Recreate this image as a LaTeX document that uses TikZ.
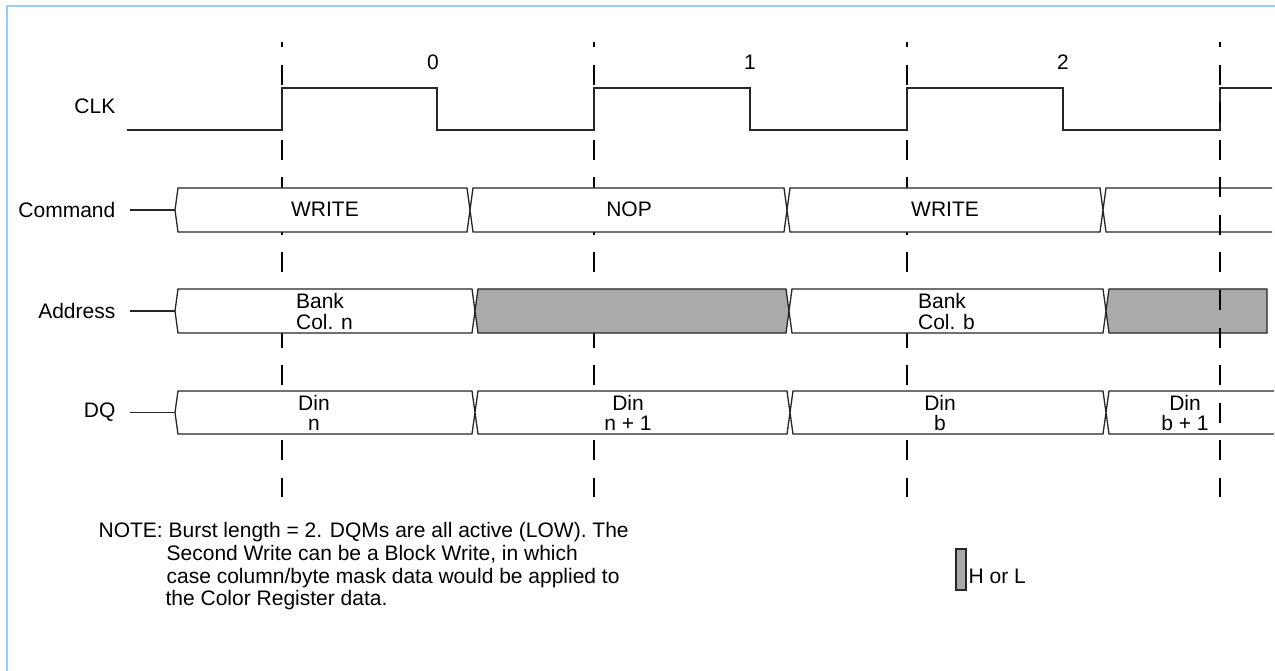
\documentclass[tikz,border=0pt]{standalone}
\usepackage{fontspec}
\setmainfont{Liberation Sans}
\usetikzlibrary{positioning}
\definecolor{hlgrey}{RGB}{170,170,170}
\definecolor{frameblue}{RGB}{153,204,255}
\tikzset{every picture/.style={line width=1.3pt}}
\tikzset{
  sig/.style={draw=black!85},
  ticks/.style={draw=black, dash pattern=on 20pt off 17.5pt, dash phase=14.5pt},
  lbl/.style={inner sep=0pt, font=\fontsize{21}{24}\selectfont},
  addrtxt/.style={lbl, align=left, font=\fontsize{21}{21}\selectfont},
  dqtxt/.style={lbl, align=center, font=\fontsize{21}{20}\selectfont},
}
\begin{document}
\begin{tikzpicture}[x=1pt,y=1pt,yscale=-1,xscale=1]
\path[use as bounding box] (0,0) rectangle (1275,671);

%Frame
\draw[frameblue, line width=2.5pt] (7,671) -- (7,6) -- (1275,6);

%Dashed clock lines
\foreach \cx in {282,594,907}
  \draw[ticks] (\cx,42) -- (\cx,497);

%CLK waveform
\draw[sig] (127,130) -- (282,130) -- (282,88) -- (437,88) -- (437,130) -- (594,130) -- (594,88) -- (750,88) -- (750,130) -- (907,130) -- (907,88) -- (1063,88) -- (1063,130) -- (1220,130) -- (1220,88) -- (1272,88);

%Command bus
\draw[sig] (130,210) -- (175,210);
\filldraw[sig, fill=white] (175,210) -- (178,188) -- (467,188) -- (470,210) -- (467,232) -- (178,232) -- cycle;
\filldraw[sig, fill=white] (470,210) -- (473,188) -- (784,188) -- (787,210) -- (784,232) -- (473,232) -- cycle;
\filldraw[sig, fill=white] (787,210) -- (790,188) -- (1100,188) -- (1103,210) -- (1100,232) -- (790,232) -- cycle;
\fill[white] (1103,210) -- (1106,188) -- (1272,188) -- (1272,232) -- (1106,232) -- cycle;
\draw[sig] (1272,188) -- (1106,188) -- (1103,210) -- (1106,232) -- (1272,232);

%Address bus
\draw[sig] (130,311) -- (175,311);
\filldraw[sig, fill=white] (175,311) -- (178,289) -- (472,289) -- (475,311) -- (472,333) -- (178,333) -- cycle;
\filldraw[sig, fill=hlgrey] (475,311) -- (478,289) -- (786,289) -- (789,311) -- (786,333) -- (478,333) -- cycle;
\filldraw[sig, fill=white] (789,311) -- (792,289) -- (1103,289) -- (1106,311) -- (1103,333) -- (792,333) -- cycle;
\filldraw[sig, fill=hlgrey] (1106,311) -- (1109,289) -- (1267,289) -- (1267,333) -- (1109,333) -- cycle;

%DQ bus
\draw[sig] (130,412.5) -- (175,412.5);
\filldraw[sig, fill=white] (175,412.5) -- (178,391) -- (472,391) -- (475,412.5) -- (472,434) -- (178,434) -- cycle;
\filldraw[sig, fill=white] (475,412.5) -- (478,391) -- (787,391) -- (790,412.5) -- (787,434) -- (478,434) -- cycle;
\filldraw[sig, fill=white] (790,412.5) -- (793,391) -- (1103,391) -- (1106,412.5) -- (1103,434) -- (793,434) -- cycle;
\fill[white] (1106,412.5) -- (1109,391) -- (1274,391) -- (1274,434) -- (1109,434) -- cycle;
\draw[sig] (1274,391) -- (1109,391) -- (1106,412.5) -- (1109,434) -- (1274,434);

%Last dashed line, on top
\draw[ticks] (1220,42) -- (1220,497);

% Signal names
\node[lbl, anchor=east] (clk) at (116,106) {CLK};
\node[lbl, anchor=east] (cmd) at (116,210) {Command};
\node[lbl, anchor=east] (addr) at (116,311) {Address};
\node[lbl, anchor=east] (dq) at (116,412.5) {DQ};

% Clock numbers
\node[lbl] (clk0) at (433,62) {0};
\node[lbl] (clk1) at (750,62) {1};
\node[lbl] (clk2) at (1063,62) {2};

% Command text
\node[lbl, anchor=base] (write0) at (325,217) {WRITE};
\node[lbl, anchor=base] (nop) at (629,217) {NOP};
\node[lbl, anchor=base] (write1) at (945,217) {WRITE};

% Address text
\node[addrtxt] (bankn) at (324.5,311) {Bank\\Col. n};
\node[addrtxt] (bankb) at (946.5,311) {Bank\\Col. b};

% DQ text
\node[dqtxt] (dinn) at (314,412.5) {Din\\n};
\node[dqtxt] (dinn1) at (628,412.5) {Din\\n + 1};
\node[dqtxt] (dinb) at (940,412.5) {Din\\b};
\node[dqtxt] (dinb1) at (1185,412.5) {Din\\b + 1};

% Note
\node[lbl, anchor=base west] (note1) at (98,537) {NOTE: Burst length = 2. DQMs are all active (LOW). The};
\node[lbl, anchor=base west] (note2) at (166,560) {Second Write can be a Block Write, in which};
\node[lbl, anchor=base west] (note3) at (166,583) {case column/byte mask data would be applied to};
\node[lbl, anchor=base west] (note4) at (165,605) {the Color Register data.};

% Legend
\filldraw[sig, fill=hlgrey] (956,549) rectangle (966,590);
\node[lbl, anchor=base west] (hl) at (968,583) {H or L};

\end{tikzpicture}
\end{document}
